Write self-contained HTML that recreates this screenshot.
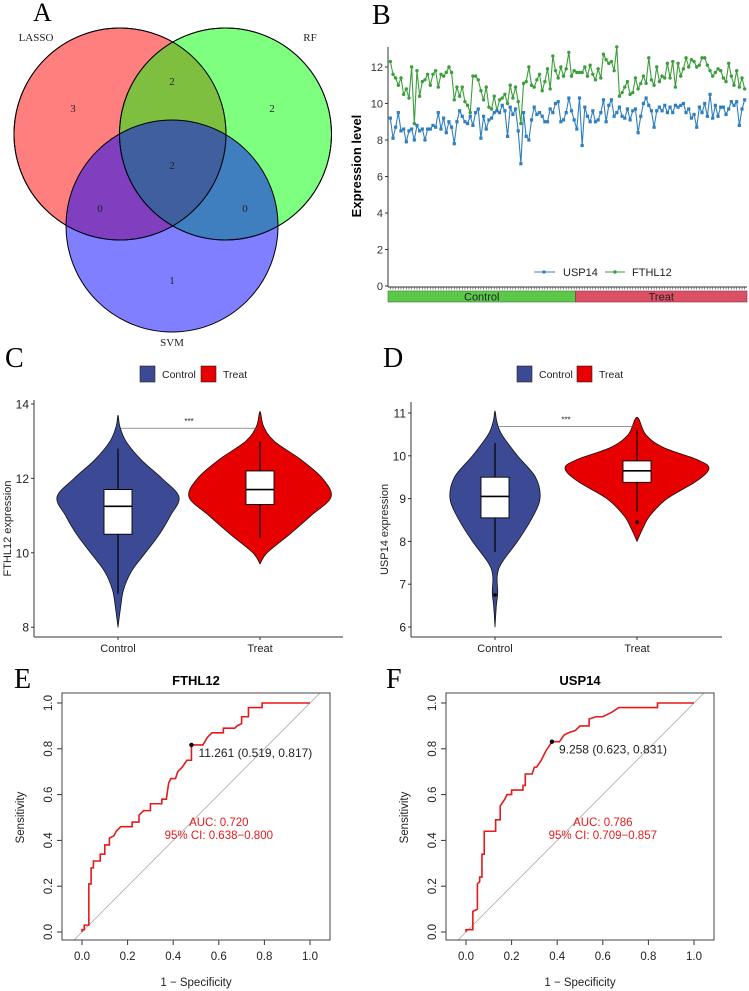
<!DOCTYPE html>
<html><head><meta charset="utf-8"><style>
html,body{margin:0;padding:0;background:#fff;}
svg{display:block;font-family:"Liberation Sans",sans-serif;}
.ser{font-family:"Liberation Serif",serif;}
</style></head><body>
<svg id="fig" width="749" height="991" viewBox="0 0 749 991" xmlns="http://www.w3.org/2000/svg">
<g>
<text class="ser" x="33" y="21" font-size="26">A</text>
<circle cx="120" cy="134" r="106" fill="rgba(255,0,0,0.5)" stroke="#000"/>
<circle cx="225.5" cy="134" r="106" fill="rgba(0,255,0,0.5)" stroke="#000"/>
<circle cx="172" cy="226" r="106" fill="rgba(0,0,255,0.5)" stroke="#000"/>
<circle cx="120" cy="134" r="106" fill="none" stroke="#000"/>
<circle cx="225.5" cy="134" r="106" fill="none" stroke="#000"/>
<g class="ser" font-size="11" fill="#222" text-anchor="middle">
<text x="36" y="41">LASSO</text>
<text x="310" y="41">RF</text>
<text x="172" y="346">SVM</text>
<text x="73" y="112">3</text>
<text x="172" y="85">2</text>
<text x="272" y="112">2</text>
<text x="172" y="169">2</text>
<text x="100" y="212">0</text>
<text x="245" y="212">0</text>
<text x="172" y="284">1</text>
</g>
</g>
<g id="pB"></g>
<g id="pC"></g>
<g id="pD"></g>
<g id="pE"></g>
<g id="pF"></g>
</svg>
<script>
// ---------- Panel B data ----------
const bTicks = [0,2,4,6,8,10,12];
const fthl12 = [12.3,11.6,11.4,11.0,11.4,10.5,10.8,10.3,12.0,8.9,11.8,10.4,11.2,11.3,11.6,11.0,11.6,11.8,10.9,11.6,11.5,11.7,12.0,11.7,10.2,10.9,10.4,10.9,10.1,9.9,9.5,11.5,11.5,11.3,10.7,10.2,10.9,9.8,9.7,10.4,9.6,10.2,10.3,10.5,10.0,11.0,10.3,10.9,10.1,8.9,11.1,11.2,12.0,11.0,10.9,11.3,11.6,10.7,11.2,11.9,10.8,12.6,11.8,11.4,12.0,11.5,11.9,12.8,11.5,11.8,11.7,11.7,11.7,12.0,11.5,12.1,11.6,11.3,11.9,11.4,12.7,12.4,12.2,12.3,11.8,13.1,10.4,10.6,10.9,11.2,10.5,10.6,11.4,10.8,11.1,11.5,11.1,12.5,11.3,11.0,12.0,11.2,11.5,11.4,12.2,11.4,12.3,10.9,12.2,11.5,11.9,12.5,12.0,12.4,12.3,12.0,12.1,12.5,12.5,12.1,11.8,11.5,11.7,11.9,11.8,11.4,11.2,12.2,11.5,11.0,11.8,10.9,11.4,10.8];
const usp14 = [9.2,8.1,8.7,9.5,8.5,8.6,7.9,8.5,8.6,8.0,8.8,8.5,8.6,8.0,8.6,8.6,8.8,8.7,9.5,8.6,9.2,8.4,9.0,8.7,7.8,9.0,9.6,9.3,9.0,8.9,9.3,8.8,9.5,9.7,8.1,9.3,8.6,9.1,9.2,9.5,9.6,9.5,9.9,9.6,8.2,9.8,9.4,9.7,8.5,6.7,9.5,8.2,8.0,9.1,9.8,9.4,9.5,9.3,9.0,9.0,9.7,9.5,10.0,10.1,9.0,9.1,9.5,10.3,9.6,9.1,8.6,10.3,7.7,9.8,9.3,9.0,9.6,9.0,9.1,9.5,10.2,9.0,9.9,10.2,9.3,9.5,9.8,9.3,9.2,9.7,9.1,9.6,9.7,8.4,9.3,10.0,10.3,9.9,9.6,8.7,9.6,9.8,9.6,9.9,9.5,9.8,9.5,9.9,9.8,9.9,10.0,9.5,9.7,9.2,9.4,8.7,9.8,9.5,10.0,9.3,10.5,9.2,9.9,9.3,9.8,9.8,9.4,9.7,10.1,9.9,10.1,8.8,9.7,10.2];
const bGroups = ["Control","Treat"];
const bControlCount = 70;

// ---------- Panel C/D data ----------
const violinGroups = ["Control","Treat"];
const cTicks = [8,10,12,14];
const cControlDens = [[8.0,0],[8.5,0.04],[9.0,0.09],[9.5,0.22],[10.0,0.45],[10.5,0.68],[11.0,0.86],[11.5,1.0],[12.0,0.72],[12.5,0.38],[13.0,0.13],[13.4,0.03],[13.7,0]];
const cTreatDens = [[9.7,0],[10.0,0.1],[10.5,0.42],[11.0,0.72],[11.5,1.0],[12.0,0.88],[12.5,0.58],[13.0,0.2],[13.4,0.05],[13.8,0]];
const cControlBox = [8.9,10.5,11.25,11.7,12.8];
const cTreatBox = [10.4,11.3,11.7,12.2,13.0];
const dTicks = [6,7,8,9,10,11];
const dControlDens = [[6.0,0],[6.5,0.03],[6.8,0.06],[7.2,0.05],[7.5,0.15],[8.0,0.5],[8.5,0.8],[9.0,1.0],[9.5,0.9],[10.0,0.5],[10.5,0.15],[10.8,0.04],[11.05,0]];
const dTreatDens = [[8.0,0],[8.3,0.08],[8.6,0.18],[9.0,0.42],[9.4,0.82],[9.7,1.0],[9.9,0.85],[10.2,0.36],[10.5,0.12],[10.9,0]];
const dControlBox = [7.75,8.55,9.05,9.5,10.3];
const dTreatBox = [8.7,9.38,9.65,9.88,10.6];
const dControlOut = [6.75];
const dTreatOut = [8.45];

// ---------- Panel E/F data ----------
const rocTicks = [0,0.2,0.4,0.6,0.8,1.0];
const eFpr = [0,0,0.01,0.01,0.03,0.03,0.04,0.04,0.05,0.05,0.08,0.08,0.1,0.1,0.12,0.12,0.14,0.15,0.17,0.22,0.22,0.25,0.25,0.27,0.3,0.3,0.35,0.35,0.37,0.38,0.39,0.41,0.42,0.44,0.46,0.48,0.48,0.53,0.55,0.57,0.62,0.62,0.67,0.68,0.7,0.7,0.73,0.73,0.79,0.79,1];
const eTpr = [0,0.01,0.01,0.03,0.03,0.21,0.21,0.28,0.28,0.31,0.31,0.34,0.34,0.38,0.38,0.41,0.42,0.44,0.46,0.46,0.48,0.48,0.51,0.53,0.53,0.56,0.56,0.58,0.58,0.65,0.67,0.67,0.7,0.72,0.75,0.75,0.817,0.817,0.85,0.87,0.87,0.89,0.89,0.9,0.91,0.94,0.94,0.98,0.98,1,1];
const fFpr = [0,0,0.03,0.03,0.05,0.05,0.06,0.06,0.07,0.07,0.08,0.08,0.09,0.09,0.13,0.13,0.15,0.15,0.17,0.18,0.2,0.2,0.25,0.25,0.26,0.26,0.29,0.3,0.31,0.33,0.35,0.35,0.37,0.377,0.41,0.43,0.45,0.48,0.5,0.54,0.54,0.57,0.6,0.64,0.64,0.67,0.84,0.84,1];
const fTpr = [0,0.01,0.01,0.09,0.1,0.21,0.22,0.24,0.24,0.34,0.34,0.44,0.44,0.44,0.44,0.49,0.49,0.55,0.58,0.6,0.6,0.62,0.62,0.64,0.64,0.69,0.69,0.72,0.72,0.75,0.79,0.79,0.82,0.831,0.831,0.86,0.87,0.88,0.9,0.9,0.93,0.94,0.94,0.96,0.96,0.98,0.98,1,1];

const NS="http://www.w3.org/2000/svg";
function mk(parent, tag, attrs, text){
  const e=document.createElementNS(NS,tag);
  for(const k in attrs) e.setAttribute(k,attrs[k]);
  if(text!==undefined) e.textContent=text;
  parent.appendChild(e); return e;
}

// ---------- Panel B ----------
(function(){
  const g=document.getElementById('pB');
  const x0=389,x1=746,yb=286,yPer=18.25;
  const n=Math.min(fthl12.length,usp14.length);
  const xs=i=>x0+ (i+0.5)*(x1-x0)/n;
  const ys=v=>yb - v*yPer;
  let t=mk(g,'text',{x:372,y:24,'font-size':28,'class':'ser'},'B');
  
  
  mk(g,'line',{x1:388,y1:47,x2:388,y2:287,stroke:'#333','stroke-width':1});
  mk(g,'line',{x1:388,y1:287,x2:747,y2:287,stroke:'#333','stroke-width':1});
  bTicks.forEach(v=>{
    mk(g,'line',{x1:385,y1:ys(v),x2:388,y2:ys(v),stroke:'#333'});
    const tt=mk(g,'text',{x:383,y:ys(v)+4,'font-size':11,'text-anchor':'end',fill:'#333'},v);
    
    
  });
  for(let i=0;i<n;i++){ mk(g,'line',{x1:xs(i),y1:287,x2:xs(i),y2:289.5,stroke:'#333','stroke-width':0.6}); }
  let yl=mk(g,'text',{x:0,y:0,'font-size':13,'font-weight':'bold','text-anchor':'middle',transform:'translate(361,166) rotate(-90)'},'Expression level');
  
  
  const split=x0+bControlCount*(x1-x0)/n;
  let r1=mk(g,'rect',{x:388,y:291,width:split-388,height:11,fill:'#5cc84a',stroke:'#3a7a30','stroke-width':0.6});
  
  
  let r2=mk(g,'rect',{x:split,y:291,width:747-split,height:11,fill:'#dc5066',stroke:'#8a3040','stroke-width':0.6});
  
  
  mk(g,'text',{x:(388+split)/2,y:300.5,'font-size':11,'text-anchor':'middle',fill:'#222'},bGroups[0]);
  mk(g,'text',{x:(split+747)/2,y:300.5,'font-size':11,'text-anchor':'middle',fill:'#222'},bGroups[1]);
  function series(vals,color,shape,name){
    let pts=''; for(let i=0;i<n;i++) pts+=xs(i)+','+ys(vals[i])+' ';
    const pl=mk(g,'polyline',{points:pts,fill:'none',stroke:color,'stroke-width':1.1});
    
    
    for(let i=0;i<n;i++){
      if(shape==='sq') mk(g,'rect',{x:xs(i)-1.6,y:ys(vals[i])-1.6,width:3.2,height:3.2,fill:color});
      else mk(g,'circle',{cx:xs(i),cy:ys(vals[i]),r:1.7,fill:color});
    }
  }
  series(fthl12,'#3b9e3b','c','fthl12');
  series(usp14,'#2f7fbf','sq','usp14');
  mk(g,'line',{x1:534,y1:272,x2:555,y2:272,stroke:'#2f7fbf'});
  mk(g,'rect',{x:542.5,y:270.5,width:3,height:3,fill:'#2f7fbf'});
  let l1=mk(g,'text',{x:563,y:276,'font-size':11,fill:'#222'},'USP14');
  
  
  mk(g,'line',{x1:605,y1:272,x2:625,y2:272,stroke:'#3b9e3b'});
  mk(g,'circle',{cx:615,cy:272,r:1.7,fill:'#3b9e3b'});
  let l2=mk(g,'text',{x:632,y:276,'font-size':11,fill:'#222'},'FTHL12');
  
  
})();

function smoothPath(pts){
  let d='M'+pts[0][0]+','+pts[0][1];
  for(let i=0;i<pts.length-1;i++){
    const p0=pts[Math.max(0,i-1)],p1=pts[i],p2=pts[i+1],p3=pts[Math.min(pts.length-1,i+2)];
    const c1=[p1[0]+(p2[0]-p0[0])/6,p1[1]+(p2[1]-p0[1])/6];
    const c2=[p2[0]-(p3[0]-p1[0])/6,p2[1]-(p3[1]-p1[1])/6];
    d+=` C${c1[0]},${c1[1]} ${c2[0]},${c2[1]} ${p2[0]},${p2[1]}`;
  }
  return d;
}

// ---------- Violin panels ----------
function violinPanel(id,label,lx,cfg){
  const g=document.getElementById(id);
  const ys=v=>cfg.yTop - (v-cfg.tTop)*cfg.per;
  let t=mk(g,'text',{x:lx,y:367,'font-size':28,'class':'ser'},label);
  
  
  const cols=['#3c4a96','#e60000'];
  violinGroups.forEach((gn,i)=>{
    const lxx=cfg.legX[i];
    mk(g,'rect',{x:lxx,y:366,width:15,height:16,fill:cols[i],stroke:'#222','stroke-width':0.6});
    const tt=mk(g,'text',{x:lxx+22,y:378,'font-size':10.5,fill:'#222'},gn);
    
    
  });
  mk(g,'line',{x1:cfg.ax,y1:cfg.axTop,x2:cfg.ax,y2:637,stroke:'#333'});
  mk(g,'line',{x1:cfg.ax,y1:637,x2:cfg.axR,y2:637,stroke:'#333'});
  cfg.ticks.forEach(v=>{
    mk(g,'line',{x1:cfg.ax-3,y1:ys(v),x2:cfg.ax,y2:ys(v),stroke:'#333'});
    const tt=mk(g,'text',{x:cfg.ax-5,y:ys(v)+4.5,'font-size':12,'text-anchor':'end',fill:'#222'},v);
    
    
  });
  const yl=mk(g,'text',{x:0,y:0,'font-size':11,'text-anchor':'middle',fill:'#222',transform:`translate(${cfg.ax-23},${(cfg.axTop+637)/2+10}) rotate(-90)`},cfg.ylab);
  
  
  violinGroups.forEach((gn,i)=>{
    const cx=cfg.cx[i];
    mk(g,'line',{x1:cx,y1:637,x2:cx,y2:640,stroke:'#333'});
    const xt=mk(g,'text',{x:cx,y:652,'font-size':11,'text-anchor':'middle',fill:'#222'},gn);
    
    
    const dens=cfg.dens[i], hw=cfg.hw[i];
    const pts=[];
    dens.forEach(p=>pts.push([cx+p[1]*hw,ys(p[0])]));
    for(let k=dens.length-2;k>=0;k--) pts.push([cx-dens[k][1]*hw,ys(dens[k][0])]);
    const vp=mk(g,'path',{d:smoothPath(pts)+'Z',fill:cols[i],stroke:'#111','stroke-width':0.8,'stroke-linejoin':'round'});
    
    
    const b=cfg.box[i];
    mk(g,'line',{x1:cx,y1:ys(b[0]),x2:cx,y2:ys(b[4]),stroke:'#000','stroke-width':1.2});
    const bx=mk(g,'rect',{x:cx-14,y:ys(b[3]),width:28,height:ys(b[1])-ys(b[3]),fill:'#fff',stroke:'#000','stroke-width':0.9});
    
    
    mk(g,'line',{x1:cx-14,y1:ys(b[2]),x2:cx+14,y2:ys(b[2]),stroke:'#000','stroke-width':1.6});
    (cfg.out[i]||[]).forEach(o=>mk(g,'circle',{cx:cx,cy:ys(o),r:1.8,fill:'#000'}));
  });
  mk(g,'line',{x1:cfg.cx[0],y1:ys(cfg.sig),x2:cfg.cx[1],y2:ys(cfg.sig),stroke:'#555','stroke-width':0.7});
  mk(g,'text',{x:(cfg.cx[0]+cfg.cx[1])/2,y:ys(cfg.sig)-4,'font-size':8,'text-anchor':'middle',fill:'#222'},'***');
}
violinPanel('pC','C',5,{yTop:404,tTop:14,per:37.2,ax:34,axTop:400,axR:343,ticks:cTicks,ylab:'FTHL12 expression',
  cx:[118,260],hw:[61,71],dens:[cControlDens,cTreatDens],box:[cControlBox,cTreatBox],out:[[],[]],sig:13.35,legX:[140,201]});
violinPanel('pD','D',383,{yTop:413,tTop:11,per:42.8,ax:411,axTop:402,axR:722,ticks:dTicks,ylab:'USP14 expression',
  cx:[495,637],hw:[45,72],dens:[dControlDens,dTreatDens],box:[dControlBox,dTreatBox],out:[dControlOut,dTreatOut],sig:10.68,legX:[517,577]});

// ---------- ROC panels ----------
function rocPanel(id,label,lx,cfg){
  const g=document.getElementById(id);
  const xs=v=>cfg.x0+v*(cfg.x1-cfg.x0);
  const ys=v=>932 - v*229;
  let t=mk(g,'text',{x:lx,y:688,'font-size':28,'class':'ser'},label);
  
  
  const ti=mk(g,'text',{x:(cfg.bx0+cfg.bx1)/2,y:685,'font-size':13,'font-weight':'bold','text-anchor':'middle'},cfg.title);
  
  
  const cp=mk(g,'clipPath',{id:id+'clip'}); mk(cp,'rect',{x:cfg.bx0,y:693,width:cfg.bx1-cfg.bx0,height:247});
  mk(g,'line',{x1:xs(-0.05),y1:ys(-0.05),x2:xs(1.05),y2:ys(1.05),stroke:'#aaa','stroke-width':0.8,'clip-path':`url(#${id}clip)`});
  rocTicks.forEach(v=>{
    mk(g,'line',{x1:xs(v),y1:940,x2:xs(v),y2:945,stroke:'#333'});
    const xt=mk(g,'text',{x:xs(v),y:960,'font-size':11.5,'text-anchor':'middle',fill:'#222'},v.toFixed(1));
    
    
    mk(g,'line',{x1:cfg.bx0-5,y1:ys(v),x2:cfg.bx0,y2:ys(v),stroke:'#333'});
    const yt=mk(g,'text',{x:0,y:0,'font-size':11.5,'text-anchor':'middle',fill:'#222',transform:`translate(${cfg.bx0-10},${ys(v)}) rotate(-90)`},v.toFixed(1));
    
    
  });
  const fr=mk(g,'rect',{x:cfg.bx0,y:693,width:cfg.bx1-cfg.bx0,height:247,fill:'none',stroke:'#444','stroke-width':1});
  
  
  let pts=''; cfg.fpr.forEach((f,i)=>{pts+=xs(f)+','+ys(cfg.tpr[i])+' ';});
  const c=mk(g,'polyline',{points:pts,fill:'none',stroke:'#e41a1c','stroke-width':1.6});
  
  
  const bp=cfg.best;
  const dot=mk(g,'circle',{cx:xs(bp[0]),cy:ys(bp[1]),r:2.2,fill:'#000'});
  
  
  mk(g,'text',{x:xs(bp[0])+7,y:ys(bp[1])+12,'font-size':12,fill:'#222'},cfg.bestLabel);
  mk(g,'text',{x:xs(0.6),y:826,'font-size':11.5,'text-anchor':'middle',fill:'#e41a1c'},cfg.auc);
  mk(g,'text',{x:xs(0.6),y:839,'font-size':11.5,'text-anchor':'middle',fill:'#e41a1c'},cfg.ci);
  const xl=mk(g,'text',{x:xs(0.5),y:986,'font-size':11.5,'text-anchor':'middle',fill:'#222'},'1 \u2212 Specificity');
  
  
  const yl=mk(g,'text',{x:0,y:0,'font-size':11.5,'text-anchor':'middle',fill:'#222',transform:`translate(${cfg.bx0-38},${ys(0.5)}) rotate(-90)`},'Sensitivity');
  
  
}
rocPanel('pE','E',14,{x0:82,x1:310,bx0:62,bx1:330,title:'FTHL12',fpr:eFpr,tpr:eTpr,best:[0.48,0.817],bestLabel:'11.261 (0.519, 0.817)',auc:'AUC: 0.720',ci:'95% CI: 0.638\u22120.800'});
rocPanel('pF','F',386,{x0:466,x1:694,bx0:446,bx1:714,title:'USP14',fpr:fFpr,tpr:fTpr,best:[0.377,0.831],bestLabel:'9.258 (0.623, 0.831)',auc:'AUC: 0.786',ci:'95% CI: 0.709\u22120.857'});
</script>
</body></html>
